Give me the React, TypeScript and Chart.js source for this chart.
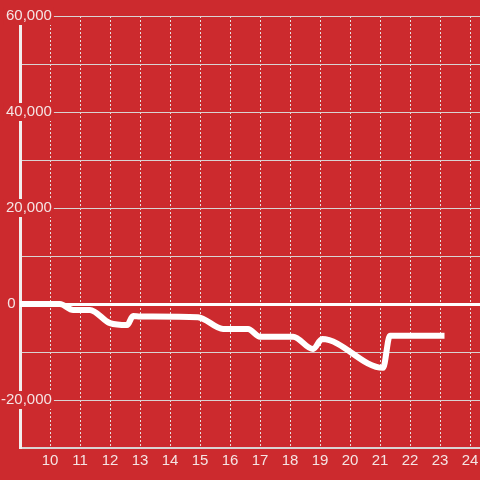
import React, { useEffect, useRef } from "react";
import { Chart, registerables } from "chart.js";

Chart.register(...registerables);

// Hour of day (x) and running balance (y)
const hours = [8.9, 10.33, 10.77, 11.33, 12.0, 12.57, 12.77, 13.0, 14.93, 15.77, 16.6, 17.0, 18.1, 18.77, 19.07, 21.1, 21.33, 23.15];
const balance = [0, 0, -1250, -1250, -4000, -4400, -2500, -2600, -2750, -5200, -5200, -6800, -6800, -9400, -7300, -13300, -6600, -6600];

// Axis ticks
const xTickValues = [10, 11, 12, 13, 14, 15, 16, 17, 18, 19, 20, 21, 22, 23, 24];
const xTickLabels = ["10", "11", "12", "13", "14", "15", "16", "17", "18", "19", "20", "21", "22", "23", "24"];
const yTickValues = [60000, 40000, 20000, 0, -20000];
const yTickLabels = ["60,000", "40,000", "20,000", "0", "-20,000"];

const BG = "#cc2a2e";
const TEXT = "#f5e4e4";
const GRID = "#d9d3d3";
const FONT = '"Liberation Sans", Arial, sans-serif';
const ZERO_PAD = " ".repeat(8) + "\u2009";

export default function App() {
  const ref = useRef<HTMLCanvasElement | null>(null);

  useEffect(() => {
    if (!ref.current) return;
    const chart = new Chart(ref.current, {
      type: "line",
      data: {
        datasets: [
          {
            data: hours.map((h, i) => ({ x: h, y: balance[i] })),
            borderColor: "#ffffff",
            borderWidth: 6,
            pointRadius: 0,
            cubicInterpolationMode: "monotone",
            borderCapStyle: "butt",
            fill: false,
          },
        ],
      },
      options: {
        animation: false,
        responsive: false,
        devicePixelRatio: 1,
        layout: { padding: { top: 16, left: 0, right: 0, bottom: 0 } },
        plugins: { legend: { display: false }, tooltip: { enabled: false } },
        scales: {
          x: {
            type: "linear",
            min: 9,
            max: 24.333,
            afterFit: (s: any) => {
              s.height = 32;
              s.paddingLeft = 0;
              s.paddingRight = 0;
            },
            ticks: {
              stepSize: 1,
              includeBounds: false,
              autoSkip: false,
              maxRotation: 0,
              padding: 4,
              color: TEXT,
              font: { family: FONT, size: 15 },
              callback: (v: any) => {
                const i = xTickValues.indexOf(Number(v));
                return i >= 0 ? xTickLabels[i] : "";
              },
            },
            grid: {
              color: "#e6e0e0",
              lineWidth: 1,
              drawTicks: false,
              tickLength: 0,
            },
            border: { display: true, color: GRID, width: 2, dash: [2, 2] },
          } as any,
          y: {
            type: "linear",
            min: -30000,
            max: 60000,
            afterFit: (s: any) => {
              s.width = 20;
            },
            ticks: {
              stepSize: 10000,
              mirror: true,
              crossAlign: "far",
              padding: -19,
              color: TEXT,
              font: { family: FONT, size: 15 },
              showLabelBackdrop: (ctx: any) => {
                const v = ctx.tick ? ctx.tick.value : NaN;
                return yTickValues.indexOf(v) >= 0 && v !== 0;
              },
              backdropColor: BG,
              backdropPadding: { top: 0, bottom: 0, left: 2, right: 2 },
              callback: (v: any) => {
                const i = yTickValues.indexOf(Number(v));
                if (i < 0) return "";
                return Number(v) === 0 ? yTickLabels[i] + ZERO_PAD : yTickLabels[i];
              },
            },
            grid: {
              color: (ctx: any) => (ctx.tick && ctx.tick.value === 0 ? "#ffffff" : GRID),
              lineWidth: (ctx: any) => (ctx.tick && ctx.tick.value === 0 ? 3 : 1),
              drawTicks: false,
              tickLength: 0,
            },
            border: { display: true, color: "#f2eeee", width: 3 },
          } as any,
        },
      } as any,
    });
    return () => chart.destroy();
  }, []);

  return (
    <div style={{ position: "fixed", left: 0, top: 0, width: 480, height: 480, background: BG }}>
      <canvas ref={ref} width={480} height={480} style={{ display: "block" }} />
    </div>
  );
}
